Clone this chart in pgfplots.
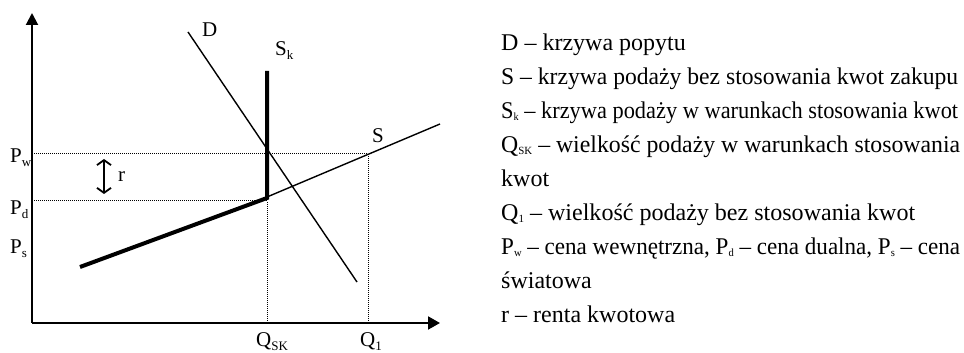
\documentclass[border=0pt]{standalone}
\usepackage{pgfplots}
\pgfplotsset{compat=1.18}
\usepackage{fontspec}
\setmainfont{Liberation Serif}
\usetikzlibrary{arrows.meta}

% subscripts: tiny in the key, larger on the chart
\newcommand{\lsub}[1]{\raisebox{-2pt}{\fontsize{11pt}{11pt}\selectfont #1}}
\newcommand{\csub}[1]{\raisebox{-4pt}{\fontsize{13pt}{13pt}\selectfont #1}}
% key line squeezed sideways to the width it has in the reference
\newsavebox\kbox
\newcommand{\kline}[2]{\sbox\kbox{#2}%
  \pgfmathsetmacro\kf{#1/\the\wd\kbox}\scalebox{\kf}[1]{\usebox\kbox}}

\begin{document}
\begin{tikzpicture}[
    lab/.style={inner sep=0pt, anchor=base west, font=\fontsize{21pt}{21pt}\selectfont},
    key/.style={inner sep=0pt, anchor=base west, font=\fontsize{24pt}{24pt}\selectfont},
  ]
\begin{axis}[
    width=964pt, height=353pt, scale only axis,
    xmin=0, xmax=964, ymin=0, ymax=353,
    hide axis, clip=false,
  ]
  % frame of the page
  \addplot[draw=none] coordinates {(0,0) (964,353)};

  % axes
  \addplot[black, line width=2pt, -{Triangle[length=12pt,width=12pt]}]
    coordinates {(32,30) (32,340)};
  \addplot[black, line width=2pt, -{Triangle[length=12pt,width=13pt]}]
    coordinates {(32,30) (440,30)};

  % guides
  \addplot[black, line width=1pt, dash pattern=on 1pt off 1pt]
    coordinates {(32,199) (368,199)};
  \addplot[black, line width=1pt, dash pattern=on 1pt off 1pt]
    coordinates {(32,152) (267,152)};
  \addplot[black, line width=1pt, dash pattern=on 1pt off 1pt]
    coordinates {(267,30) (267,152)};
  \addplot[black, line width=1pt, dash pattern=on 1pt off 1pt]
    coordinates {(368,30) (368,199)};

  % demand
  \addplot[black, line width=1.4pt] coordinates {(188,321) (357,71)};
  % supply without quotas
  \addplot[black, line width=1.4pt] coordinates {(267,156) (440,229)};
  % supply with quotas
  \addplot[black, line width=4pt, line join=miter]
    coordinates {(80,86) (267,155) (267,282)};

  % quota rent
  \addplot[black, line width=1.8pt,
    {Straight Barb[length=5pt,width=14pt]}-{Straight Barb[length=5pt,width=14pt]}]
    coordinates {(104,159) (104,194)};

  % chart labels
  \node[lab] at (axis cs:202,316) {D};
  \node[lab] at (axis cs:275,297) {S\csub{k}};
  \node[lab] at (axis cs:372,210) {S};
  \node[lab] at (axis cs:118,171) {r};
  \node[lab] at (axis cs:10,190) {P\csub{w}};
  \node[lab] at (axis cs:10,138) {P\csub{d}};
  \node[lab] at (axis cs:10,99) {P\csub{s}};
  \node[lab] at (axis cs:256,6) {Q\csub{SK}};
  \node[lab] at (axis cs:360,6) {Q\csub{1}};

  % key
  \node[key] at (axis cs:501,302) {D – krzywa popytu};
  \node[key] at (axis cs:501,268) {\kline{457}{S – krzywa podaży bez stosowania kwot zakupu}};
  \node[key] at (axis cs:501,234) {\kline{457}{S\lsub{k} – krzywa podaży w warunkach stosowania kwot}};
  \node[key] at (axis cs:501,200) {\kline{459}{Q\lsub{SK} – wielkość podaży w warunkach stosowania}};
  \node[key] at (axis cs:501,166) {kwot};
  \node[key] at (axis cs:501,132) {\kline{414}{Q\lsub{1} – wielkość podaży bez stosowania kwot}};
  \node[key] at (axis cs:501,98) {\kline{459}{P\lsub{w} – cena wewnętrzna, P\lsub{d} – cena dualna, P\lsub{s} – cena}};
  \node[key] at (axis cs:501,64) {światowa};
  \node[key] at (axis cs:501,30) {r – renta kwotowa};
\end{axis}
\end{tikzpicture}
\end{document}
